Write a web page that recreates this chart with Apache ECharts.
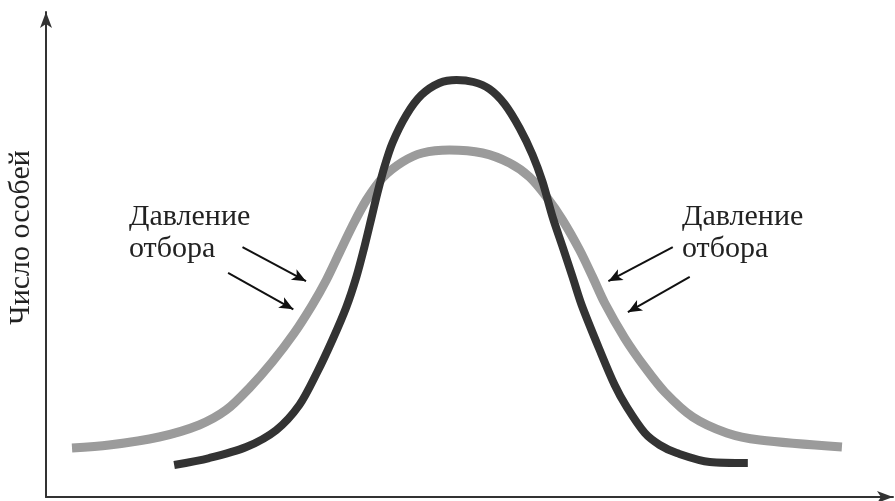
<!DOCTYPE html>
<html><head><meta charset="utf-8">
<script src="https://cdn.jsdelivr.net/npm/echarts@6/dist/echarts.min.js"></script>
<style>html,body{margin:0;padding:0;background:#fff}#c{width:895px;height:501px}</style>
</head><body><div id="c"></div>
<script>
// Trait value (x, 0-100) vs number of individuals (y, 0-100)
const narrowX = [15.13,19.27,23.64,27.19,29.91,32.03,33.81,35.46,36.64,37.59,38.42,39.13,39.95,40.90,42.55,44.33,46.45,48.46,50.47,52.36,54.14,55.91,57.45,58.63,59.81,61.00,62.17,63.24,65.37,67.14,68.56,70.69,72.46,74.47,78.37,82.86];
const narrowY = [6.60,8.04,10.31,13.81,18.97,25.77,32.37,39.18,45.36,51.55,57.53,62.68,68.04,72.99,78.76,82.89,85.36,85.98,85.57,84.12,81.03,76.08,70.52,64.95,57.73,51.55,45.36,39.59,30.31,23.09,18.56,13.20,10.72,9.07,7.22,7.01];
const wideX = [3.07,7.45,13.36,18.09,21.28,24.00,26.71,29.31,31.44,33.10,34.63,36.17,37.83,39.72,42.08,44.44,47.64,51.54,54.73,57.09,59.10,60.99,63.00,64.54,65.96,68.32,70.69,73.05,76.36,80.38,84.28,93.97];
const wideY = [10.10,10.72,12.37,14.85,17.94,22.47,27.84,33.81,39.59,44.74,50.31,55.88,61.24,65.77,69.07,70.93,71.55,70.93,68.87,65.98,61.86,57.11,50.93,45.36,40.00,32.78,26.80,21.65,16.49,13.20,11.75,10.31];
const yAxisName = 'Число особей';
const annotationText = 'Давление\nотбора';
// annotation arrows [from, to] in data units
const arrows = [
  [[23.2,51.5],[30.7,44.5]],
  [[21.5,46.2],[29.2,38.7]],
  [[74.0,51.5],[66.4,44.5]],
  [[76.0,45.4],[68.7,38.1]]
];

const pair = (xs, ys) => xs.map((x,i)=>[x, ys[i]]);
const chart = echarts.init(document.getElementById('c'));
const serif = '"Liberation Serif","DejaVu Serif",serif';
chart.setOption({
  animation:false,
  grid:{left:46,right:2,top:12,bottom:4,outerBoundsMode:'none',containLabel:false},
  xAxis:{type:'value',min:0,max:100,
    axisLine:{show:true,symbol:['none','arrow'],symbolSize:[9,16],lineStyle:{color:'#333',width:2}},
    axisTick:{show:false},axisLabel:{show:false},splitLine:{show:false}},
  yAxis:{type:'value',min:0,max:100,name:yAxisName,nameLocation:'middle',nameGap:10,
    nameTextStyle:{fontFamily:serif,fontSize:30,color:'#222',padding:[0,0,0,34]},
    axisLine:{show:true,symbol:['none','arrow'],symbolSize:[9,16],lineStyle:{color:'#333',width:2}},
    axisTick:{show:false},axisLabel:{show:false},splitLine:{show:false}},
  series:[
    {type:'line',data:pair(wideX,wideY),smooth:0.3,showSymbol:false,
     lineStyle:{color:'#9b9b9b',width:9,cap:'butt'},z:2},
    {type:'line',data:pair(narrowX,narrowY),smooth:0.3,showSymbol:false,
     lineStyle:{color:'#333333',width:8,cap:'butt'},z:3},
    {type:'line',data:[],markLine:{silent:true,symbol:['none','arrow'],symbolSize:[9,14],
      label:{show:false},lineStyle:{color:'#111',width:2,type:'solid'},
      data:arrows.map(a=>[{coord:a[0]},{coord:a[1]}])}}
  ],
  graphic:[
    {type:'text',left:129,top:201,style:{text:annotationText,font:'30px '+serif,fill:'#222',lineHeight:32}},
    {type:'text',left:682,top:201,style:{text:annotationText,font:'30px '+serif,fill:'#222',lineHeight:32}}
  ]
});
</script></body></html>
